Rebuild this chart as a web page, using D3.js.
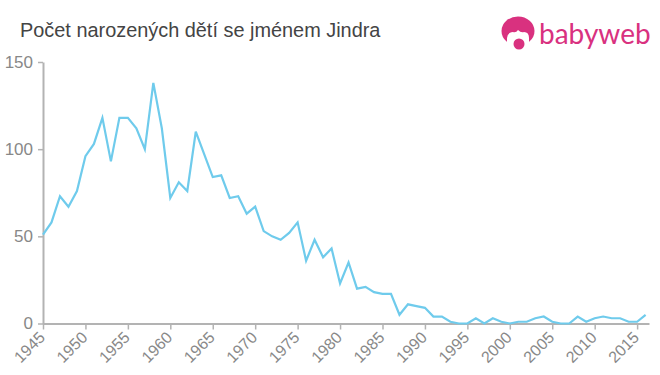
<!DOCTYPE html>
<html>
<head>
<meta charset="utf-8">
<script src="https://cdn.jsdelivr.net/npm/d3@7"></script>
<style>
    html, body { margin: 0; padding: 0; background: #fff; }
    svg { display: block; }
    text { font-family: "Liberation Sans", Arial, sans-serif; }
</style>
</head>
<body>
<div id="chart"></div>
<script>
// Values
const years = d3.range(1945, 2017);
const births = [
    51, 58, 73, 67, 76, 96, 103, 118, 93, 118,
    118, 112, 100, 138, 112, 72, 81, 76, 110, 97,
    84, 85, 72, 73, 63, 67, 53, 50, 48, 52,
    58, 36, 48, 38, 43, 23, 35, 20, 21, 18,
    17, 17, 5, 11, 10, 9, 4, 4, 1, 0,
    0, 3, 0, 3, 1, 0, 1, 1, 3, 4,
    1, 0, 0, 4, 1, 3, 4, 3, 3, 1,
    1, 5
];
const xTicks = d3.range(1945, 2016, 5);
const yTicks = [0, 50, 100, 150];
const title = "Počet narozených dětí se jménem Jindra";

const width = 660;
const height = 375;
const margin = {top: 62, right: 15, bottom: 51.5, left: 43};

const svg = d3.select("#chart").append("svg")
    .attr("width", width)
    .attr("height", height);

// 1945 sits on the y axis, the axis runs a little past 2016
const x = d3.scaleLinear()
    .domain([1945, 2016.4])
    .range([margin.left, width - margin.right + 4]);

const y = d3.scaleLinear()
    .domain([0, 150])
    .range([height - margin.bottom, margin.top]);

const xAxis = svg.append("g")
    .attr("transform", `translate(0,${height - margin.bottom})`)
    .call(d3.axisBottom(x).tickValues(xTicks).tickFormat(d3.format("d")).tickSize(6).tickSizeOuter(0));

xAxis.selectAll("text")
    .attr("text-anchor", "end")
    .attr("dx", 0)
    .attr("dy", 0)
    .attr("y", 0)
    .attr("transform", "translate(2.5,15) rotate(-45)");

const yAxis = svg.append("g")
    .attr("transform", `translate(${margin.left},0)`)
    .call(d3.axisLeft(y).tickValues(yTicks).tickSize(5).tickSizeOuter(0));

yAxis.selectAll("text").attr("x", -10);

svg.selectAll(".domain, .tick line")
    .attr("stroke", "#b3b3b3")
    .attr("stroke-width", 2);
svg.selectAll(".tick line").attr("stroke-width", 1.5);
yAxis.selectAll("text")
    .attr("fill", "#888888")
    .style("font-size", "17px");
xAxis.selectAll("text")
    .attr("fill", "#888888")
    .style("font-size", "16px");

const line = d3.line()
    .x((d, i) => x(years[i]))
    .y(d => y(d));

svg.append("path")
    .datum(births)
    .attr("fill", "none")
    .attr("stroke", "#6fcbec")
    .attr("stroke-width", 2.2)
    .attr("stroke-linejoin", "miter")
    .attr("d", line);

svg.append("text")
    .attr("x", 20)
    .attr("y", 37)
    .attr("fill", "#444444")
    .style("font-size", "19.9px")
    .text(title);

// Logo
const pink = "#d9317f";
const logo = svg.append("g").attr("transform", "translate(518,31)");
logo.append("ellipse").attr("rx", 16.5).attr("ry", 14.5).attr("fill", pink);
logo.append("path")
    .attr("d", "M-11,15 L-11,7 Q-10,1 -5,1 Q-2,2 0,-1 Q3,2 6,1 Q11,1 11,7 L11,15 Z")
    .attr("fill", "#fff");
logo.append("circle").attr("r", 5.5).attr("cx", 1).attr("cy", 13).attr("fill", pink);

svg.append("text")
    .attr("x", 539)
    .attr("y", 44)
    .attr("fill", pink)
    .style("font-family", "Lato")
    .style("font-size", "28px")
    .text("babyweb");
</script>
</body>
</html>
